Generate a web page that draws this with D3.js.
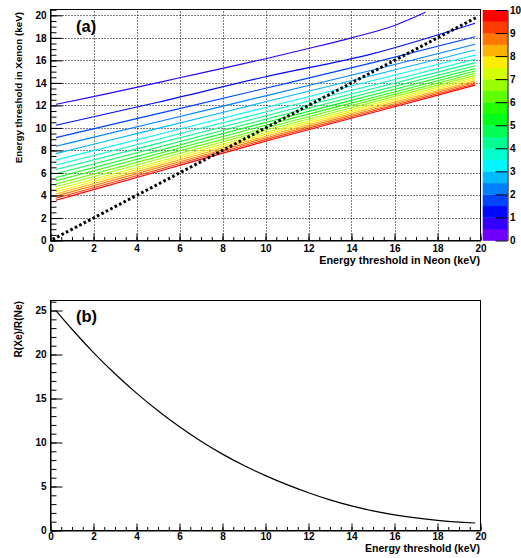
<!DOCTYPE html>
<html><head><meta charset="utf-8">
<script src="https://cdn.jsdelivr.net/npm/d3@7"></script>
<style>
body{margin:0;background:#fff}
svg{display:block}
text{font-family:"Liberation Sans",Arial,Helvetica,sans-serif;font-weight:bold;fill:#000}
</style>
</head><body>
<svg id="c" width="521" height="558"></svg>
<script>
// ---------------- data ----------------
// Panel (a): contour levels of R(Xe)/R(Ne)
const levels = [0.5,1,1.5,2,2.5,3,3.5,4,4.5,5,5.5,6,6.5,7,7.5,8,8.5,9,9.5];
// level 0.5 line (ends early at the top of the frame)
const topLineX = [0.25,2,4,6,8,10,12,14,16,17.44];
const topLineY = [12.1,12.78,13.6,14.45,15.29,16.15,17.05,18.0,19.1,20.27];
// levels 1 .. 9.5, Xenon threshold at these Neon thresholds
const lineX = [0.25,5,10,15,19.75];
const lineY = [
  [10.24,12.28,14.55,16.6,19.3],
  [9.14,11.27,13.52,15.8,18.1],
  [8.37,10.55,12.85,15.15,17.43],
  [7.72,9.96,12.32,14.68,16.92],
  [7.15,9.42,11.82,14.21,16.47],
  [6.7,9.0,11.42,13.82,16.1],
  [6.3,8.63,11.08,13.5,15.8],
  [5.93,8.29,10.77,13.21,15.53],
  [5.6,7.98,10.49,12.95,15.28],
  [5.3,7.71,10.24,12.71,15.06],
  [5.02,7.45,10.0,12.49,14.85],
  [4.77,7.21,9.79,12.29,14.67],
  [4.54,7.0,9.6,12.11,14.5],
  [4.33,6.81,9.43,11.95,14.34],
  [4.13,6.63,9.26,11.79,14.19],
  [3.94,6.46,9.11,11.64,14.05],
  [3.76,6.29,8.96,11.5,13.92],
  [3.58,6.13,8.82,11.37,13.8]
];
const diagonal = [0.1,19.85];
const xTicksA = [0,2,4,6,8,10,12,14,16,18,20];
const yTicksA = [0,2,4,6,8,10,12,14,16,18,20];
const cbTicks = [0,1,2,3,4,5,6,7,8,9,10];
// Panel (b): ratio at equal thresholds
const ratioX = [0.25,1,2,3,4,5,6,7,8,9,10,11,12,13,14,15,16,17,18,19,19.75];
const ratioY = [25.0,22.87,20.22,17.81,15.61,13.6,11.78,10.14,8.68,7.38,6.24,5.21,4.29,3.48,2.79,2.23,1.78,1.43,1.16,0.96,0.85];
const xTicksB = [0,2,4,6,8,10,12,14,16,18,20];
const yTicksB = [0,5,10,15,20,25];

// ---------------- drawing ----------------
const svg = d3.select("#c");
const nBands = 20;
const bandColor = i => d3.hsl(266 - 14*i, 1, 0.5).formatHex();
const TICKFONT = 10;

// ===== Panel (a) =====
const L = 50.5, R = 480.5;
const xa = d3.scaleLinear().domain([0,20]).range([L,R]);
const ya = d3.scaleLinear().domain([0,20.52]).range([240.5,9.5]);

const ga = svg.append("g");
// grid
ga.append("g").selectAll("line").data(xTicksA.filter(d=>d>0&&d<20)).join("line")
  .attr("x1",d=>Math.round(xa(d))+0.5).attr("x2",d=>Math.round(xa(d))+0.5)
  .attr("y1",ya.range()[0]).attr("y2",ya.range()[1])
  .attr("stroke","#000").attr("stroke-width",1).attr("stroke-dasharray","1,2");
ga.append("g").selectAll("line").data(yTicksA.filter(d=>d>0)).join("line")
  .attr("y1",d=>Math.round(ya(d))+0.5).attr("y2",d=>Math.round(ya(d))+0.5)
  .attr("x1",L).attr("x2",R)
  .attr("stroke","#000").attr("stroke-width",1).attr("stroke-dasharray","1,2");

// contour lines
const lineGen = d3.line().x(d=>xa(d[0])).y(d=>ya(d[1])).curve(d3.curveMonotoneX);
const contours = [topLineX.map((x,i)=>[x,topLineY[i]])]
  .concat(lineY.map(arr => lineX.map((x,i)=>[x,arr[i]])));
ga.append("g").selectAll("path").data(contours).join("path")
  .attr("d",lineGen).attr("fill","none")
  .attr("stroke",(d,i)=>bandColor(Math.round(levels[i]/0.5)))
  .attr("stroke-width",1.1);

// diagonal
ga.append("line")
  .attr("x1",xa(diagonal[0])).attr("y1",ya(diagonal[0]))
  .attr("x2",xa(diagonal[1])).attr("y2",ya(diagonal[1]))
  .attr("stroke","#000").attr("stroke-width",3).attr("stroke-dasharray","2.6,2.4");

// frame
ga.append("rect").attr("x",L).attr("y",9.5).attr("width",R-L).attr("height",231)
  .attr("fill","none").attr("stroke","#000").attr("stroke-width",1);

// axes a
function styleAxis(g){ g.select(".domain").attr("stroke","#000"); g.selectAll(".tick line").attr("stroke","#000"); g.selectAll("text").attr("font-size",TICKFONT).attr("font-family","Liberation Sans, Arial, sans-serif").attr("font-weight","bold"); }
const axXa = ga.append("g").attr("transform","translate(0,240.5)")
  .call(d3.axisBottom(xa).tickValues(xTicksA).tickSize(-7).tickSizeOuter(0).tickPadding(4.3).tickFormat(d3.format("d")));
styleAxis(axXa);
ga.append("g").attr("transform","translate(0,240.5)")
  .call(d3.axisBottom(xa).tickValues(d3.range(0,20.01,0.5)).tickSize(-3.5).tickSizeOuter(0).tickFormat(""))
  .call(g=>{g.select(".domain").remove(); g.selectAll("line").attr("stroke","#000");});
const axYa = ga.append("g").attr("transform","translate(50.5,0)")
  .call(d3.axisLeft(ya).tickValues(yTicksA).tickSize(-12).tickSizeOuter(0).tickPadding(4).tickFormat(d3.format("d")));
styleAxis(axYa);
ga.append("g").attr("transform","translate(50.5,0)")
  .call(d3.axisLeft(ya).tickValues(d3.range(0,20.51,0.5)).tickSize(-6).tickSizeOuter(0).tickFormat(""))
  .call(g=>{g.select(".domain").remove(); g.selectAll("line").attr("stroke","#000");});

// titles a
ga.append("text").attr("x",480).attr("y",264).attr("text-anchor","end").attr("font-size",10.8)
  .text("Energy threshold in Neon (keV)");
ga.append("text").attr("transform","translate(21.5,12) rotate(-90)").attr("text-anchor","end").attr("font-size",9.8)
  .text("Energy threshold in Xenon (keV)");
ga.append("text").attr("x",76).attr("y",31.5).attr("font-size",16.5).text("(a)");

// colour bar
const zc = d3.scaleLinear().domain([0,10]).range([240.5,10]);
const cbX0 = 482.7, cbX1 = 507.5;
ga.append("g").selectAll("rect").data(d3.range(nBands)).join("rect")
  .attr("x",cbX0).attr("width",cbX1-cbX0)
  .attr("y",i=>zc((i+1)*0.5)).attr("height",i=>zc(i*0.5)-zc((i+1)*0.5)+0.3)
  .attr("fill",i=>bandColor(i));
const axZ = ga.append("g").attr("transform",`translate(${cbX1},0)`)
  .call(d3.axisRight(zc).tickValues(cbTicks).tickSize(-12).tickSizeOuter(0).tickPadding(2.5).tickFormat(d3.format("d")));
styleAxis(axZ);

// ===== Panel (b) =====
const xb = d3.scaleLinear().domain([0,20]).range([L,R]);
const yb = d3.scaleLinear().domain([0,26.14]).range([530.5,300.5]);
const gb = svg.append("g");
gb.append("path").datum(ratioX.map((x,i)=>[x,ratioY[i]]))
  .attr("d",d3.line().x(d=>xb(d[0])).y(d=>yb(d[1])).curve(d3.curveMonotoneX))
  .attr("fill","none").attr("stroke","#000").attr("stroke-width",1.2);
gb.append("rect").attr("x",L).attr("y",300.5).attr("width",R-L).attr("height",230)
  .attr("fill","none").attr("stroke","#000").attr("stroke-width",1);
const axXb = gb.append("g").attr("transform","translate(0,530.5)")
  .call(d3.axisBottom(xb).tickValues(xTicksB).tickSize(-7).tickSizeOuter(0).tickPadding(2.7).tickFormat(d3.format("d")));
styleAxis(axXb);
gb.append("g").attr("transform","translate(0,530.5)")
  .call(d3.axisBottom(xb).tickValues(d3.range(0,20.01,0.5)).tickSize(-3.5).tickSizeOuter(0).tickFormat(""))
  .call(g=>{g.select(".domain").remove(); g.selectAll("line").attr("stroke","#000");});
const axYb = gb.append("g").attr("transform","translate(50.5,0)")
  .call(d3.axisLeft(yb).tickValues(yTicksB).tickSize(-12).tickSizeOuter(0).tickPadding(4).tickFormat(d3.format("d")));
styleAxis(axYb);
gb.append("g").attr("transform","translate(50.5,0)")
  .call(d3.axisLeft(yb).tickValues(d3.range(0,26.1,1)).tickSize(-6).tickSizeOuter(0).tickFormat(""))
  .call(g=>{g.select(".domain").remove(); g.selectAll("line").attr("stroke","#000");});
gb.append("text").attr("x",480).attr("y",551.5).attr("text-anchor","end").attr("font-size",10.5)
  .text("Energy threshold (keV)");
gb.append("text").attr("transform","translate(21.5,301) rotate(-90)").attr("text-anchor","end").attr("font-size",10.2)
  .text("R(Xe)/R(Ne)");
gb.append("text").attr("x",76).attr("y",322).attr("font-size",16.5).text("(b)");
</script>
</body></html>
